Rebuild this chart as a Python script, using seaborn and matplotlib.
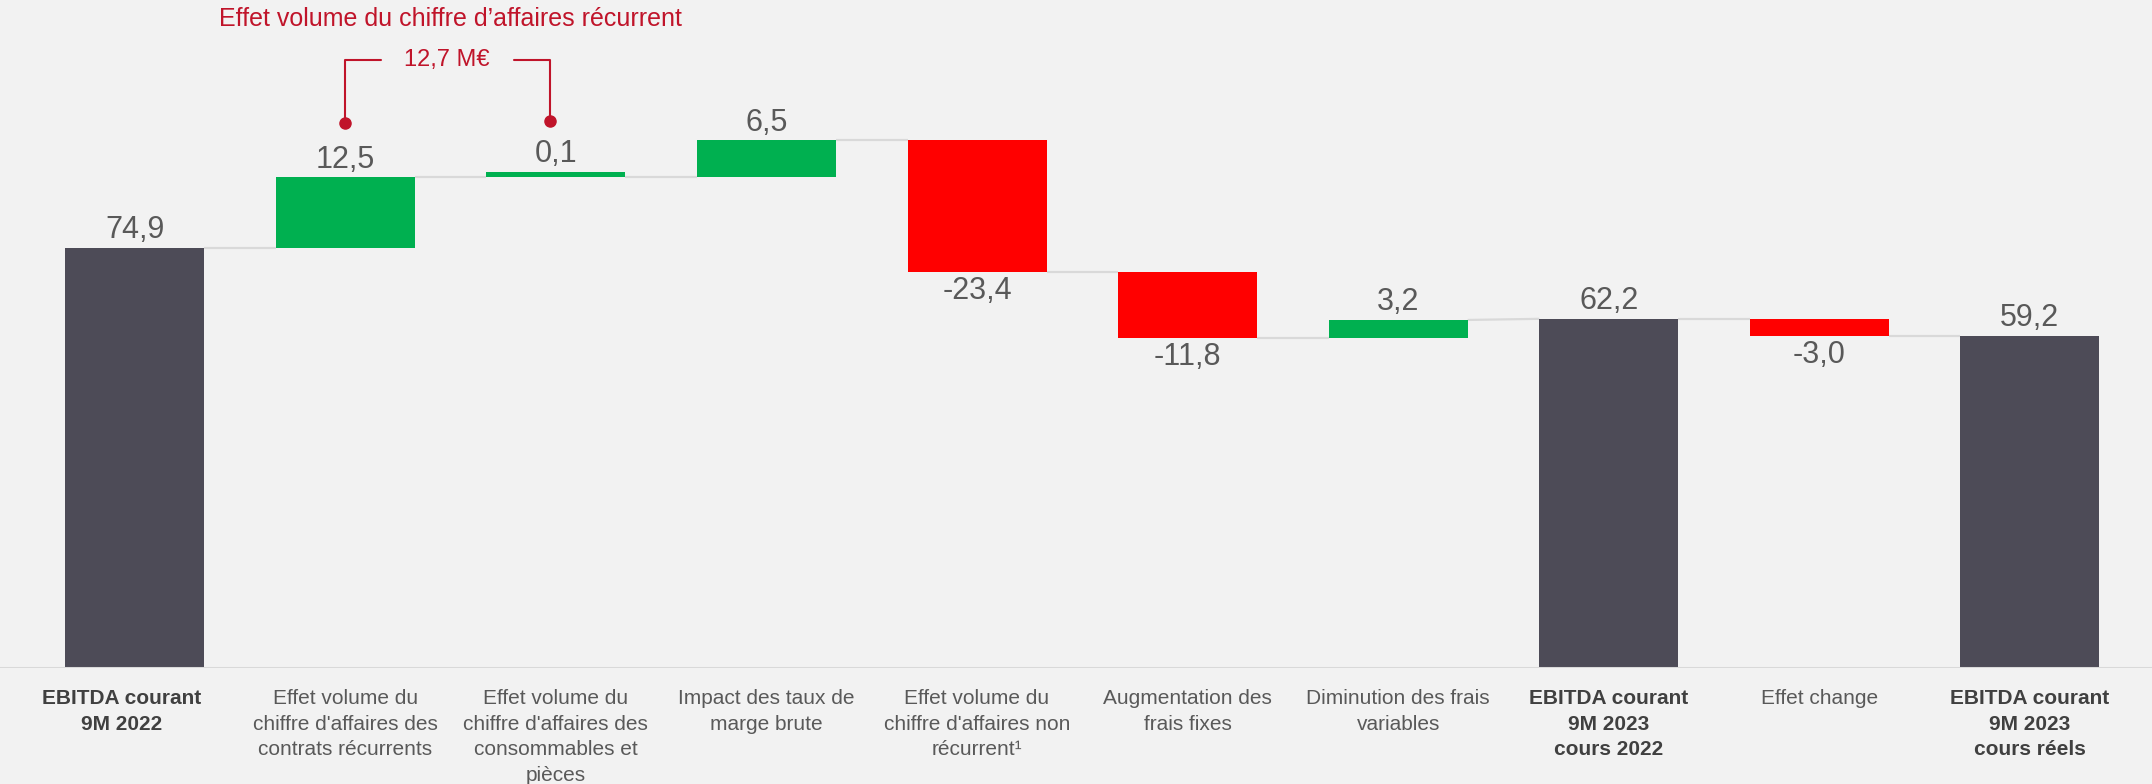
import numpy as np
import pandas as pd
import seaborn as sns
import matplotlib.pyplot as plt
import matplotlib.transforms as mtransforms

# Waterfall data (M€)
categories = [
    "EBITDA courant\n9M 2022",
    "Effet volume du\nchiffre d'affaires des\ncontrats récurrents",
    "Effet volume du\nchiffre d'affaires des\nconsommables et\npièces",
    "Impact des taux de\nmarge brute",
    "Effet volume du\nchiffre d'affaires non\nrécurrent¹",
    "Augmentation des\nfrais fixes",
    "Diminution des frais\nvariables",
    "EBITDA courant\n9M 2023\ncours 2022",
    "Effet change",
    "EBITDA courant\n9M 2023\ncours réels",
]
values = [74.9, 12.5, 0.1, 6.5, -23.4, -11.8, 3.2, 62.2, -3.0, 59.2]
is_total = [True, False, False, False, False, False, False, True, False, True]
value_labels = ["74,9", "12,5", "0,1", "6,5", "-23,4", "-11,8", "3,2", "62,2", "-3,0", "59,2"]

bracket_title = "Effet volume du chiffre d’affaires récurrent"
bracket_value = "12,7 M€"

BG = "#F2F2F2"
DARK = "#4D4B57"
GREEN = "#00B050"
RED = "#FF0000"
ANNOT = "#C0142A"
TXT = "#595959"
LINE = "#D9D9D9"

# compute bar bases / tops
bottoms, tops = [], []
level = 0.0
for v, tot in zip(values, is_total):
    if tot:
        b, t = 0.0, v
        level = v
    else:
        b, t = (level, level + v) if v >= 0 else (level + v, level)
        level = level + v
    bottoms.append(b)
    tops.append(t)

colors = [DARK if t else (GREEN if v >= 0 else RED) for v, t in zip(values, is_total)]

df = pd.DataFrame({"cat": categories, "height": [t - b for b, t in zip(bottoms, tops)]})

sns.set_style("white")
plt.rcParams["font.family"] = ["Liberation Sans", "DejaVu Sans"]

fig = plt.figure(figsize=(21.52, 7.84), dpi=100, facecolor=BG)
ax = fig.add_axes([0, 0.148, 1, 0.852])
ax.set_facecolor(BG)

sns.barplot(data=df, x="cat", y="height", hue="cat", palette=colors,
            legend=False, width=0.66, saturation=1, ax=ax, zorder=3)

# move bars to their floating positions (min visible height for tiny steps)
for p, b, t in zip(ax.patches, bottoms, tops):
    p.set_y(b)
    p.set_height(max(t - b, 1.0))
    p.set_edgecolor("none")

# connectors
ends = []
for v, tot, b, t in zip(values, is_total, bottoms, tops):
    ends.append(t if (tot or v >= 0) else b)
starts = []
for v, tot, b, t in zip(values, is_total, bottoms, tops):
    starts.append(t if tot else (b if v >= 0 else t))
half = 0.33
for i in range(len(values) - 1):
    ax.plot([i + half, i + 1 - half], [ends[i], starts[i + 1]],
            color=LINE, lw=1.6, zorder=2, solid_capstyle="butt")

# baseline
ax.axhline(0, color=LINE, lw=2.2, zorder=4)

# value labels
for i, (v, tot, b, t, lab) in enumerate(zip(values, is_total, bottoms, tops, value_labels)):
    if tot or v >= 0:
        ax.annotate(lab, (i, max(t, b + 1.0)), xytext=(0, 2), textcoords="offset points",
                    ha="center", va="bottom", fontsize=22, color=TXT, zorder=5)
    else:
        ax.annotate(lab, (i, b), xytext=(0, -3), textcoords="offset points",
                    ha="center", va="top", fontsize=22, color=TXT, zorder=5)

# bracket annotation over recurring revenue effects
ax.plot([1.0, 1.0, 1.17], [97.0, 108.3, 108.3], color=ANNOT, lw=1.5, zorder=5)
ax.plot([1.80, 1.97, 1.97], [108.3, 108.3, 97.4], color=ANNOT, lw=1.5, zorder=5)
ax.plot([1.0, 1.97], [97.0, 97.4], "o", color=ANNOT, ms=8, zorder=6)
ax.text(1.484, 108.3, bracket_value, ha="center", va="center", fontsize=17, color=ANNOT)
ax.text(1.50, 115.6, bracket_title, ha="center", va="center", fontsize=18, color=ANNOT)

ax.set_xlim(-0.64, 9.58)
ax.set_ylim(0, 119)
ax.set_yticks([])
ax.set_xlabel("")
ax.set_ylabel("")
ax.set_xticks(range(len(categories)))
ax.set_xticklabels(categories, fontsize=15, color=TXT, linespacing=1.45, va="top")
ax.tick_params(axis="x", length=0, pad=15)
for i, (lbl, tot) in enumerate(zip(ax.get_xticklabels(), is_total)):
    if tot:
        lbl.set_fontweight("bold")
        lbl.set_color("#404040")
# first label sits slightly left of its bar in the original
first = ax.get_xticklabels()[0]
first.set_transform(first.get_transform() +
                    mtransforms.ScaledTranslation(-0.13, 0, fig.dpi_scale_trans))
sns.despine(ax=ax, left=True, bottom=True)

plt.savefig("out.png", dpi=100, facecolor=BG)
